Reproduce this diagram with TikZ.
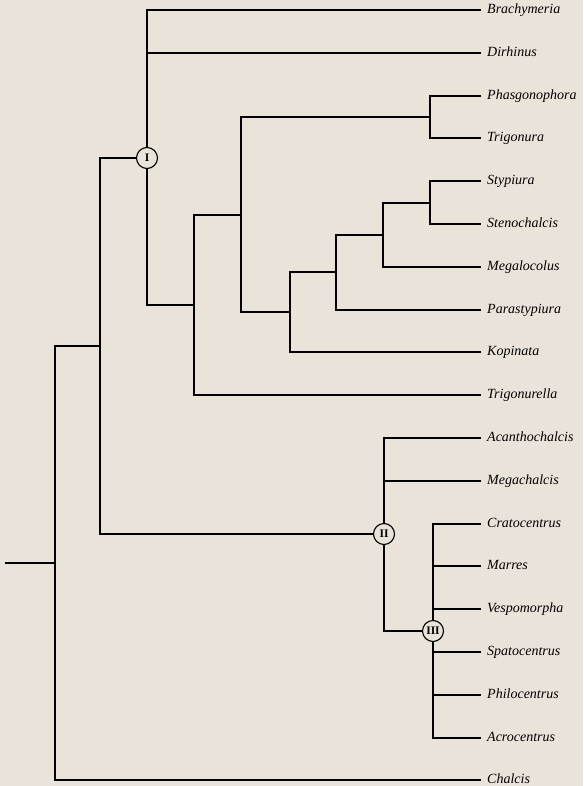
\documentclass[tikz,border=0pt]{standalone}
\usepackage{fontspec}
\setmainfont{Liberation Serif}
\usepackage{xcolor}
\usepackage{tikz}
\definecolor{paper}{RGB}{233,227,218}

\begin{document}
\begin{tikzpicture}[
  x=1pt, y=-1pt,
  taxon/.style ={anchor=west, inner xsep=6pt, inner ysep=0pt, text height=7.6pt, text depth=0pt,
                 font=\fontsize{14}{16}\selectfont\itshape},
  clade/.style ={draw, circle, fill=paper, line width=1.1pt, minimum size=21pt, inner sep=0pt,
                 font=\fontsize{11.5}{11.5}\selectfont\bfseries},
  br/.style    ={line width=2pt}
]
\fill[paper] (0,0) rectangle (583,786);
\useasboundingbox (0,0) rectangle (583,786);

% ---- taxa (one row every 42.8pt) ----
\foreach \taxa [count=\i from 0] in {Brachymeria,Dirhinus,Phasgonophora,Trigonura,Stypiura,
    Stenochalcis,Megalocolus,Parastypiura,Kopinata,Trigonurella,Acanthochalcis,Megachalcis,
    Cratocentrus,Marres,Vespomorpha,Spatocentrus,Philocentrus,Acrocentrus,Chalcis}{
  \pgfmathtruncatemacro\ty{10.5+42.8*\i}
  \node[taxon] (\taxa) at (481,\ty) {\taxa};
}

% ---- branch points ----
\coordinate (stub) at (5,563);
\coordinate (root) at (55,563);
\coordinate (nA)   at (100,346);
\node[clade] (cI) at (147,158) {I};
\coordinate (nB)   at (194,305);
\coordinate (nC)   at (241,215);
\coordinate (nD)   at (430,117);
\coordinate (nE)   at (290,312);
\coordinate (nF)   at (336,272);
\coordinate (nG)   at (383,235);
\coordinate (nH)   at (430,203);
\node[clade] (cII)  at (384,534) {II};
\node[clade] (cIII) at (433,631) {III};

% ---- root ----
\draw[br] (stub) -- (root);
\draw[br] (root) |- (nA); \draw[br] (root) |- (Chalcis.west);
\draw[br] (nA) |- (cI);   \draw[br] (nA) |- (cII);

% ---- clade I ----
\draw[br] (cI) |- (Brachymeria.west); \draw[br] (cI) |- (Dirhinus.west); \draw[br] (cI) |- (nB);
\draw[br] (nB) |- (nC); \draw[br] (nB) |- (Trigonurella.west);
\draw[br] (nC) |- (nD); \draw[br] (nC) |- (nE);
\draw[br] (nD) |- (Phasgonophora.west); \draw[br] (nD) |- (Trigonura.west);
\draw[br] (nE) |- (nF); \draw[br] (nE) |- (Kopinata.west);
\draw[br] (nF) |- (nG); \draw[br] (nF) |- (Parastypiura.west);
\draw[br] (nG) |- (nH); \draw[br] (nG) |- (Megalocolus.west);
\draw[br] (nH) |- (Stypiura.west); \draw[br] (nH) |- (Stenochalcis.west);

% ---- clades II and III ----
\draw[br] (cII) |- (Acanthochalcis.west); \draw[br] (cII) |- (Megachalcis.west); \draw[br] (cII) |- (cIII);
\foreach \taxa in {Cratocentrus,Marres,Vespomorpha,Spatocentrus,Philocentrus,Acrocentrus}
  \draw[br] (cIII) |- (\taxa.west);

\end{tikzpicture}
\end{document}
